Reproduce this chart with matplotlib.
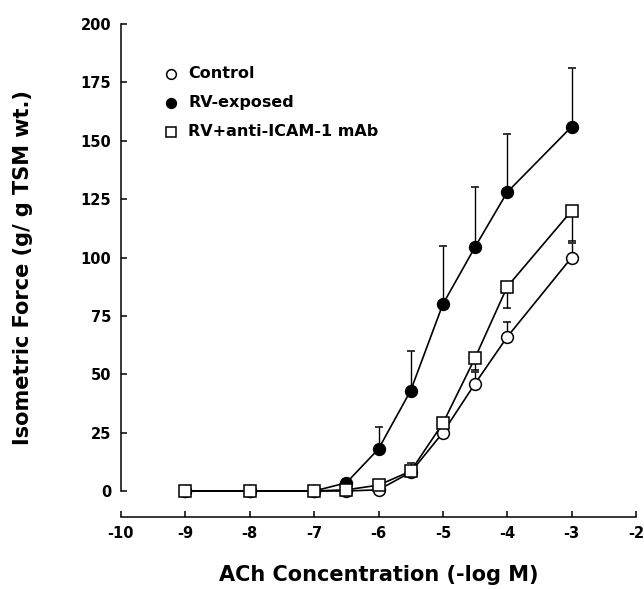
import matplotlib
matplotlib.use("Agg")
import matplotlib.pyplot as plt

plt.rcParams['font.family'] = ['DejaVu Sans']
plt.rcParams['font.weight'] = 'bold'

# ACh concentration (log M) and isometric force (g/g TSM wt.)
conc = [-9, -8, -7, -6.5, -6, -5.5, -5, -4.5, -4, -3]

control = [0, 0, 0, 0, 0.5, 8, 25, 46, 66, 100]
control_err_up = [0, 0, 0, 0, 0, 4, 2, 5, 6.5, 6]

rv_exposed = [0, 0, 0, 3.5, 18, 43, 80, 104.5, 128, 156]
rv_exposed_err_up = [0, 0, 0, 0, 9.5, 17, 25, 25.5, 25, 25]

rv_mab = [0, 0, 0, 0.5, 2.5, 8.5, 29, 57, 87.5, 120]
rv_mab_err_down = [0, 0, 0, 0, 0, 0, 0, 5, 9, 13]

x_ticks = [-10, -9, -8, -7, -6, -5, -4, -3, -2]
y_ticks = [0, 25, 50, 75, 100, 125, 150, 175, 200]

W, H = 644, 589
fig = plt.figure(figsize=(W / 100, H / 100), dpi=100)
ax = fig.add_axes([121 / W, 1 - 491 / H, (636 - 121) / W, (491 - 24) / H])

zeros = [0] * len(conc)
common = dict(color='black', lw=1.2, capsize=3.2, elinewidth=1.0,
              capthick=1.0, clip_on=False, markeredgewidth=1.1)

ax.errorbar(conc, control, yerr=[zeros, control_err_up], fmt='-o',
            mfc='white', mec='black', ms=8.5, zorder=3, **common)
ax.errorbar(conc, rv_exposed, yerr=[zeros, rv_exposed_err_up], fmt='-o',
            mfc='black', mec='black', ms=8.5, zorder=4, **common)
ax.errorbar(conc, rv_mab, yerr=[rv_mab_err_down, zeros], fmt='-s',
            mfc='white', mec='black', ms=8, zorder=5, **common)

ax.set_xlim(-10, -2)
ax.set_ylim(0, 200)
ax.set_xticks(x_ticks)
ax.set_yticks(y_ticks)
ax.set_xticklabels([str(t) for t in x_ticks])

for side in ['top', 'right']:
    ax.spines[side].set_visible(False)
ax.spines['bottom'].set_position(('outward', 19))
ax.spines['left'].set_linewidth(1.1)
ax.spines['bottom'].set_linewidth(1.1)

ax.tick_params(axis='both', direction='in', length=4, width=1.1,
               labelsize=10.5)
ax.tick_params(axis='y', pad=7)
ax.tick_params(axis='x', pad=6)

ax.set_xlabel('ACh Concentration (-log M)', fontsize=15, fontweight='bold')
ax.xaxis.set_label_coords(0.5, -(565 - 491) / (491 - 24))
ax.set_ylabel('Isometric Force (g/ g TSM wt.)', fontsize=15, fontweight='bold')
ax.yaxis.set_label_coords(-(121 - 33) / (636 - 121), (491 - 268) / (491 - 24))

# legend drawn by hand in figure pixel positions
legend_rows = [
    ('Control', 'o', 'white', 74),
    ('RV-exposed', 'o', 'black', 103),
    ('RV+anti-ICAM-1 mAb', 's', 'white', 132),
]
for label, marker, face, ypx in legend_rows:
    fig.lines.append(plt.Line2D([171 / W], [1 - ypx / H], marker=marker,
                                mfc=face, mec='black', ms=7, mew=1.1,
                                ls='none', transform=fig.transFigure))
    fig.text(188 / W, 1 - ypx / H, label, fontsize=11.5, fontweight='bold',
             va='center', ha='left')

fig.savefig('out.png', dpi=100)
